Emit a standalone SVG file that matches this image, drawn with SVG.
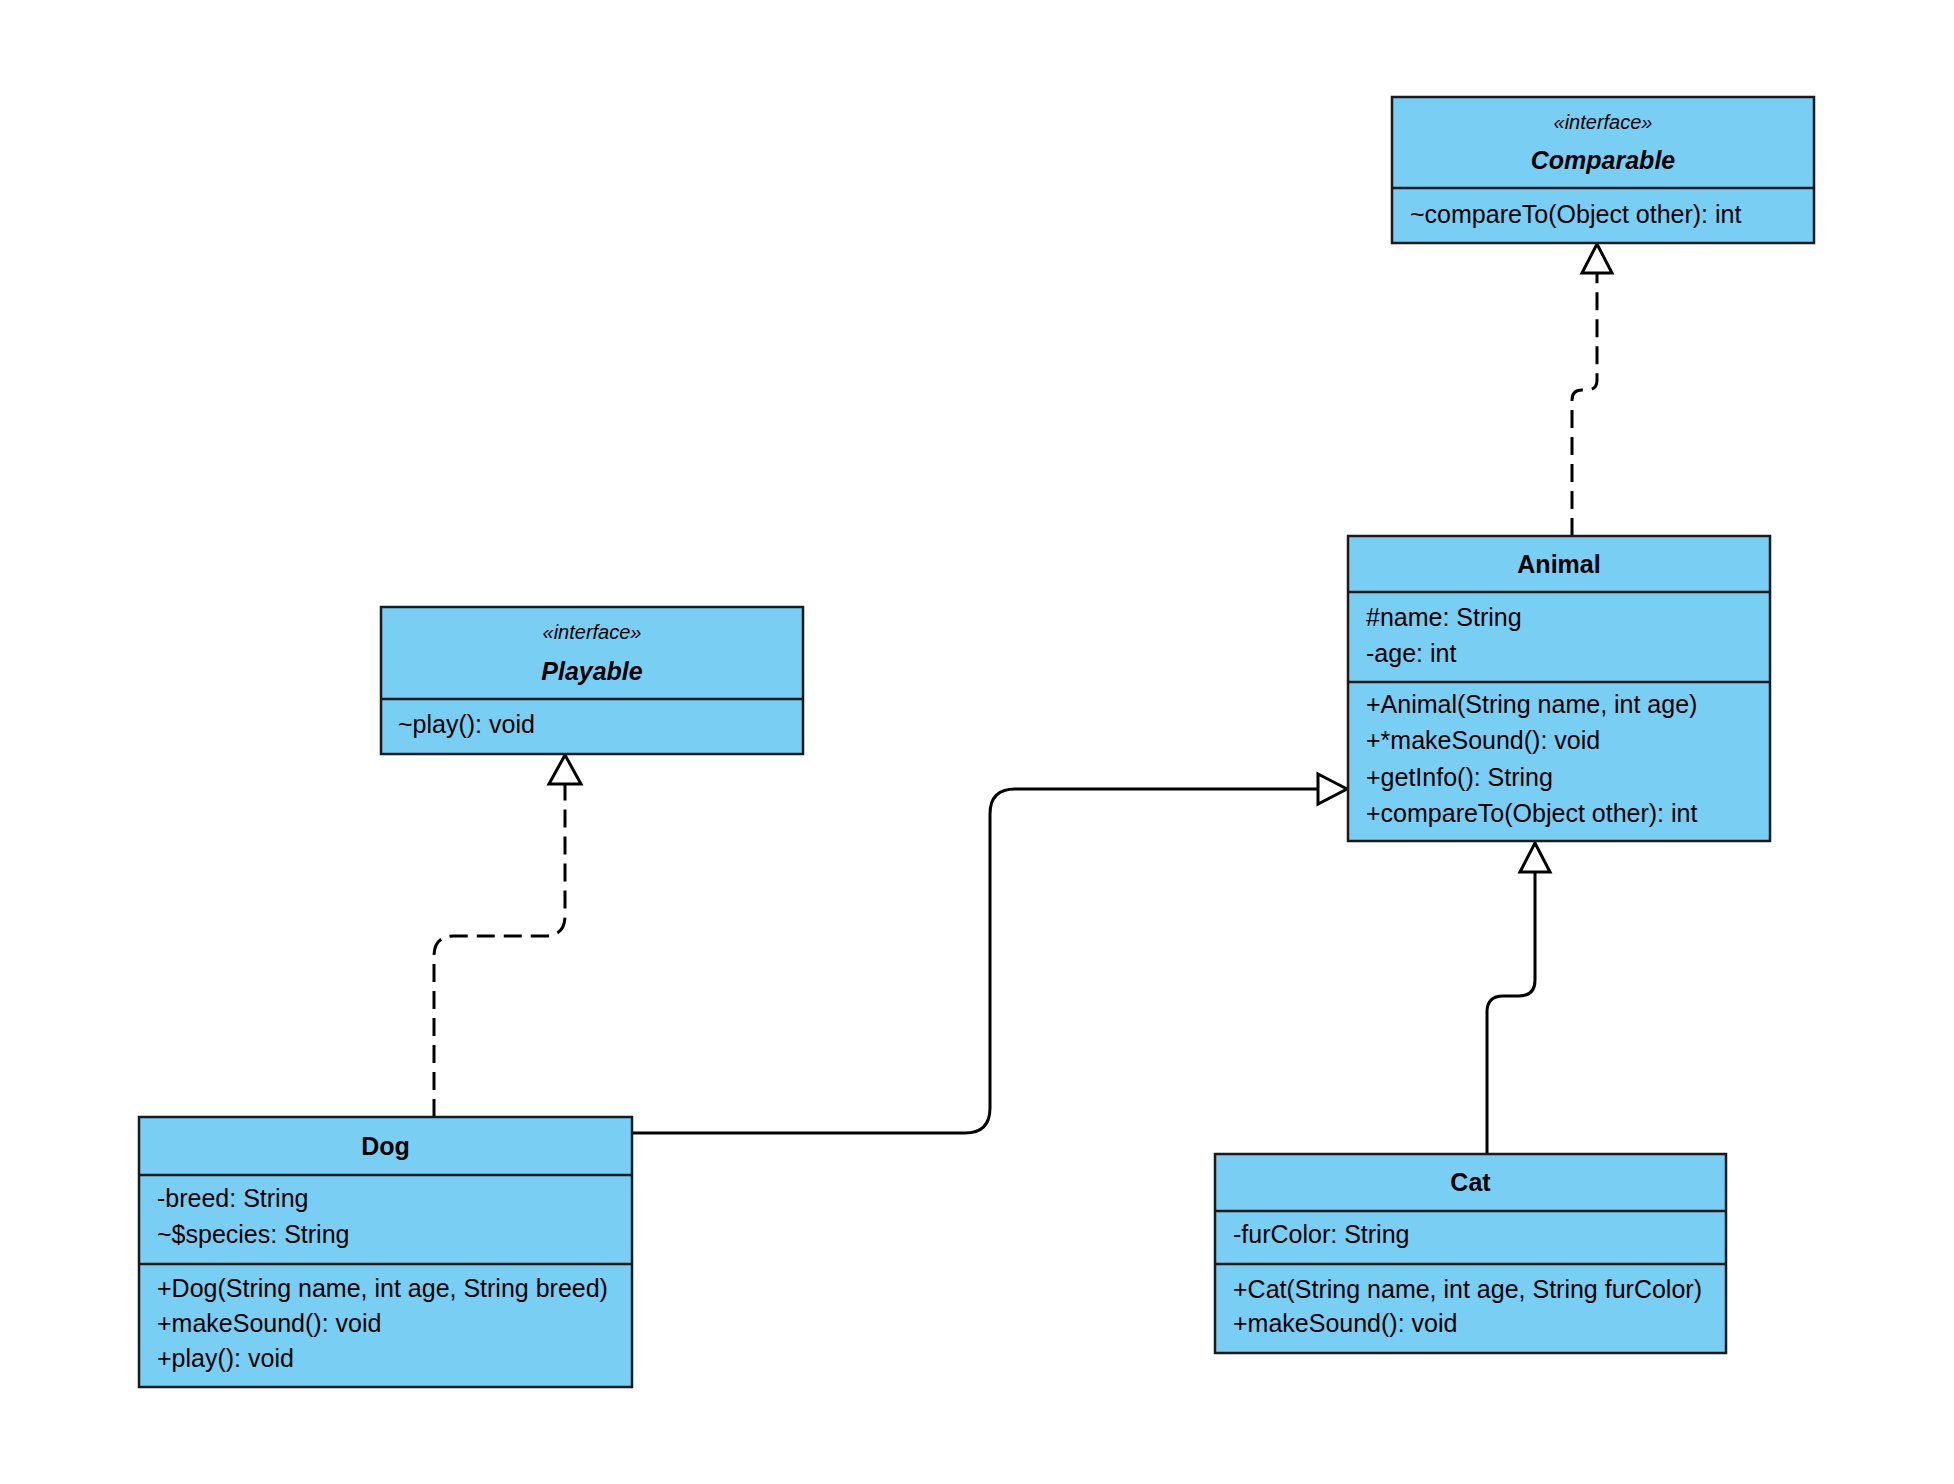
<svg xmlns="http://www.w3.org/2000/svg" width="1954" height="1484" viewBox="0 0 1954 1484">
<style>
.box{fill:#79CEF4;stroke:#1a1a1a;stroke-width:2.5}
.div{stroke:#1a1a1a;stroke-width:2.5}
.t{font-family:"Liberation Sans",Arial,sans-serif;font-size:25px;fill:#000}
.title{font-weight:bold;text-anchor:middle}
.ititle{font-weight:bold;font-style:italic;text-anchor:middle}
.st{font-style:italic;font-size:20px;text-anchor:middle}
.edge{fill:none;stroke:#000;stroke-width:3}
.dash{stroke-dasharray:18 9}
.head{fill:#fff;stroke:#000;stroke-width:3}
</style>
<rect width="1954" height="1484" fill="#fff"/>
<g id="connectors">
<path class="edge" d="M632 1133 H965 Q990 1133 990 1108 V814 Q990 789 1015 789 H1318"/>
<polygon class="head" points="1318,774 1347,789 1318,804"/>
<path class="edge" d="M1487 1154 V1012 Q1487 996 1503 996 H1519 Q1535 996 1535 980 V872"/>
<polygon class="head" points="1520,872 1535,843 1550,872"/>
<path class="edge dash" d="M434 1117 V956 Q434 936 454 936 H545 Q565 936 565 916 V784"/>
<polygon class="head" points="549,784 565,755 581,784"/>
<path class="edge dash" d="M1572 536 V400 Q1572 390 1582 390 H1587 Q1597 390 1597 380 V273"/>
<polygon class="head" points="1582,273 1597,244 1612,273"/>
</g>
<g id="Comparable">
<rect class="box" x="1392" y="97" width="422" height="146"/>
<line class="div" x1="1392" y1="188" x2="1814" y2="188"/>
<text class="t st" x="1603" y="129">«interface»</text>
<text class="t ititle" x="1603" y="169">Comparable</text>
<text class="t" x="1410" y="223">~compareTo(Object other): int</text>
</g>
<g id="Playable">
<rect class="box" x="381" y="607" width="422" height="147"/>
<line class="div" x1="381" y1="699" x2="803" y2="699"/>
<text class="t st" x="592" y="639">«interface»</text>
<text class="t ititle" x="592" y="680">Playable</text>
<text class="t" x="398" y="733">~play(): void</text>
</g>
<g id="Animal">
<rect class="box" x="1348" y="536" width="422" height="305"/>
<line class="div" x1="1348" y1="592" x2="1770" y2="592"/>
<line class="div" x1="1348" y1="682" x2="1770" y2="682"/>
<text class="t title" x="1559" y="573">Animal</text>
<text class="t" x="1366" y="626">#name: String</text>
<text class="t" x="1366" y="662">-age: int</text>
<text class="t" x="1366" y="713">+Animal(String name, int age)</text>
<text class="t" x="1366" y="749">+*makeSound(): void</text>
<text class="t" x="1366" y="786">+getInfo(): String</text>
<text class="t" x="1366" y="822">+compareTo(Object other): int</text>
</g>
<g id="Dog">
<rect class="box" x="139" y="1117" width="493" height="270"/>
<line class="div" x1="139" y1="1175" x2="632" y2="1175"/>
<line class="div" x1="139" y1="1264" x2="632" y2="1264"/>
<text class="t title" x="385.5" y="1155">Dog</text>
<text class="t" x="157" y="1207">-breed: String</text>
<text class="t" x="157" y="1243">~$species: String</text>
<text class="t" x="157" y="1297">+Dog(String name, int age, String breed)</text>
<text class="t" x="157" y="1332">+makeSound(): void</text>
<text class="t" x="157" y="1367">+play(): void</text>
</g>
<g id="Cat">
<rect class="box" x="1215" y="1154" width="511" height="199"/>
<line class="div" x1="1215" y1="1211" x2="1726" y2="1211"/>
<line class="div" x1="1215" y1="1264" x2="1726" y2="1264"/>
<text class="t title" x="1470.5" y="1191">Cat</text>
<text class="t" x="1233" y="1243">-furColor: String</text>
<text class="t" x="1233" y="1298">+Cat(String name, int age, String furColor)</text>
<text class="t" x="1233" y="1332">+makeSound(): void</text>
</g>
</svg>
